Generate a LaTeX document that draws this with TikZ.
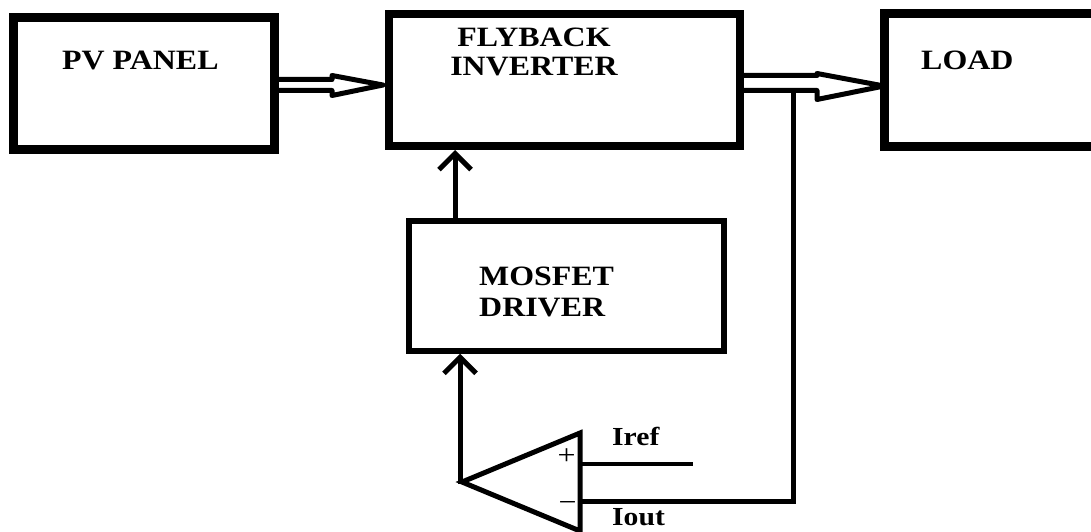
\documentclass[tikz,border=0pt]{standalone}
\usepackage{fontspec}
\setmainfont{Liberation Serif}[FakeStretch=1.14]
\usetikzlibrary{arrows.meta}
\usetikzlibrary{calc}

\begin{document}
\begin{tikzpicture}[x=1pt,y=-1pt,
    block/.style={draw, line width=#1},
    lbl/.style={inner sep=0pt, font=\bfseries\fontsize{28}{29}\selectfont},
    sig/.style={draw, line width=5pt},
    thinsig/.style={draw, line width=4pt},
    hollow/.style={draw, line width=5pt, line join=round},
    barb/.style={-{Straight Barb[length=16pt,width=32pt]}}
  ]

      \clip (0,0) rectangle (1091,532);

      % Blocks
      \node[block=9pt, minimum width=261pt, minimum height=132pt] (pv) at (144,83.5) {};
      \node[block=8pt, minimum width=351pt, minimum height=132pt] (fly) at (564.5,80) {};
      \node[block=9pt, minimum width=226pt, minimum height=133pt] (load) at (997.5,80) {};
      \node[block=5.5pt, minimum width=315pt, minimum height=130pt] (drv) at (566.5,286) {};

      % Labels
      \node[lbl, anchor=base west] (pvtxt) at (62,70) {PV PANEL};
      \node[lbl, anchor=south, align=center] (flytxt) at (534,76) {FLYBACK\\INVERTER};
      \node[lbl, anchor=base west] (loadtxt) at (921,70) {LOAD};
      \node[lbl, font=\bfseries\fontsize{28}{31}\selectfont, anchor=south west, align=left] (drvtxt) at (479,317) {MOSFET\\DRIVER};

      % Power path
      \draw[hollow] ($(pv.east)+(0,-4)$) -- (332,79.5) -- (332,75.5) -- ($(fly.west)+(-2,5)$)
        -- (332,95.5) -- (332,90.5) -- ($(pv.east)+(0,7)$);
      \draw[hollow] ($(fly.east)+(0,-4.5)$) -- (817,75.5) -- (817,73.5) -- ($(load.west)+(4,6)$)
        -- (817,99.5) -- (817,90.5) -- ($(fly.east)+(0,10.5)$);

      % Comparator
      \coordinate (optop) at (580,433);
      \coordinate (opbot) at (580,531);
      \coordinate (optip) at (462,482);
      \coordinate (opout) at (460,484);
      \coordinate (inp) at (580,464);
      \coordinate (inm) at (580,501);
      \coordinate (irefend) at (693,464);
      \coordinate (tap) at (793,90.5);
      \coordinate (fbx) at (455,0);
      \draw[sig] (optop) -- (optip) -- (opbot) -- cycle;
      \node[inner sep=0pt, font=\fontsize{28}{30}\selectfont] (plus) at (566.5,457) {+};
      \node[inner sep=0pt, font=\fontsize{28}{30}\selectfont] (minus) at (567.5,506) {−};
      \node[lbl, font=\bfseries\fontsize{26}{28}\selectfont, anchor=base west] (ireftxt) at (612,445) {Iref};
      \node[lbl, font=\bfseries\fontsize{26}{28}\selectfont, anchor=base west] (iouttxt) at (612,525) {Iout};

      % Signal lines
      \draw[thinsig] (inp) -- (irefend);
      \draw[sig] (tap) |- (inm);
      \draw[sig, barb] (opout) -- (opout |- drv.south);
      \draw[sig, barb] (drv.north -| fbx) -- (fly.south -| fbx);

  \end{tikzpicture}
\end{document}
